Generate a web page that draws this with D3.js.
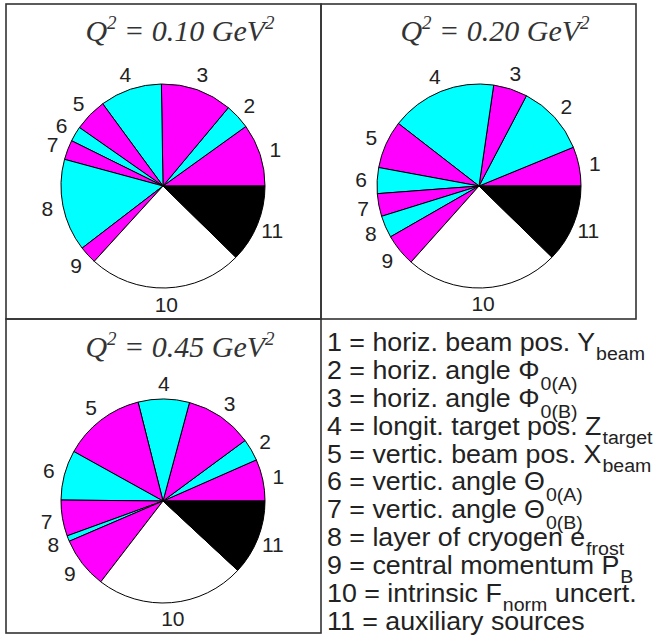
<!DOCTYPE html>
<html><head><meta charset="utf-8">
<script src="https://cdn.jsdelivr.net/npm/d3@7"></script>
<style>body{margin:0;background:#fff}svg{display:block}</style>
</head><body>
<script>
// ---- data ----
const categories = ["1","2","3","4","5","6","7","8","9","10","11"];
const shareQ010 = [9.9, 4.0, 11.3, 9.8, 5.2, 2.4, 3.1, 14.6, 2.8, 24.4, 12.3];
const shareQ020 = [6.2, 11.1, 5.4, 16.8, 7.6, 4.1, 3.6, 3.5, 5.1, 24.3, 12.3];
const shareQ045 = [6.6, 3.5, 10.7, 8.1, 13.0, 7.9, 5.7, 0.9, 8.1, 23.5, 11.9];
const sliceColors = ["#ff00ff","#00ffff","#ff00ff","#00ffff","#ff00ff","#00ffff","#ff00ff","#00ffff","#ff00ff","#ffffff","#000000"];
const titleValues = ["0.10","0.20","0.45"];
const legendMain = ["1 = horiz. beam pos. Y","2 = horiz. angle Φ","3 = horiz. angle Φ","4 = longit. target pos. Z","5 = vertic. beam pos. X","6 = vertic. angle Θ","7 = vertic. angle Θ","8 = layer of cryogen e","9 = central momentum P","10 = intrinsic F","11 = auxiliary sources"];
const legendSub = ["beam","0(A)","0(B)","target","beam","0(A)","0(B)","frost","B","norm",""];
const legendTail = ["","","","","","","","","","uncert.",""];

const W = 655, H = 640;
const svg = d3.select("body").append("svg").attr("width", W).attr("height", H);

// frames
const xs = [6, 321, 636], ys = [4, 319, 633];
const frame = svg.append("g").attr("stroke", "#333").attr("stroke-width", 1.6).attr("fill", "none");
[[0,0],[1,0],[0,1]].forEach(([i,j]) => {
  frame.append("rect").attr("x", xs[i]).attr("y", ys[j]).attr("width", xs[i+1]-xs[i]).attr("height", ys[j+1]-ys[j]);
});

const panels = [
  {data: shareQ010, cx: 163, cy: 186, tx: 180, ty: 41, q: titleValues[0]},
  {data: shareQ020, cx: 479, cy: 186, tx: 495, ty: 41, q: titleValues[1]},
  {data: shareQ045, cx: 163, cy: 501, tx: 180, ty: 357, q: titleValues[2]}
];
const R = 102, RL = 118;
const pie = d3.pie().sort(null).value(d => d).startAngle(Math.PI/2).endAngle(Math.PI/2 - 2*Math.PI);
const arc = d3.arc().innerRadius(0).outerRadius(R);
const labelArc = d3.arc().innerRadius(RL).outerRadius(RL);

panels.forEach(p => {
  const g = svg.append("g").attr("transform", `translate(${p.cx},${p.cy})`);
  const arcs = pie(p.data);
  g.selectAll("path").data(arcs).join("path")
    .attr("d", arc)
    .attr("fill", (d,i) => sliceColors[i])
    .attr("stroke", "#000").attr("stroke-width", 1).attr("stroke-linejoin", "round");
  g.selectAll("text").data(arcs).join("text")
    .attr("transform", d => `translate(${labelArc.centroid(d)})`)
    .attr("text-anchor", "middle").attr("dy", "0.36em")
    .attr("font-family", "Liberation Sans, Arial, sans-serif").attr("font-size", 21).attr("fill", "#222")
    .text((d,i) => categories[i]);
  // title
  const t = svg.append("text").attr("x", p.tx).attr("y", p.ty).attr("text-anchor", "middle")
    .attr("font-family", "Liberation Serif, Times New Roman, serif").attr("font-style", "italic")
    .attr("font-size", 30).attr("fill", "#333");
  t.append("tspan").text("Q");
  t.append("tspan").attr("font-size", 19).attr("dy", -12).text("2");
  t.append("tspan").attr("dy", 12).text(" = " + p.q + " GeV");
  t.append("tspan").attr("font-size", 19).attr("dy", -12).text("2");
});

// legend
const leg = svg.append("g").attr("font-family", "Liberation Sans, Arial, sans-serif").attr("fill", "#222")
  .attr("transform", "translate(327,0) scale(1.03,1)");
legendMain.forEach((s, i) => {
  const t = leg.append("text").attr("x", 0).attr("y", 351 + i*27.9).attr("font-size", 26);
  t.append("tspan").text(s);
  if (legendSub[i]) {
    const greek = /[ΦΘ]$/.test(s);
    const off = greek ? 11 : 9;
    t.append("tspan").attr("font-size", 19).attr("dy", off).attr("dx", 1).text(legendSub[i]);
    if (legendTail[i]) t.append("tspan").attr("dy", -off).text(" " + legendTail[i]);
  }
});
</script>
</body></html>
